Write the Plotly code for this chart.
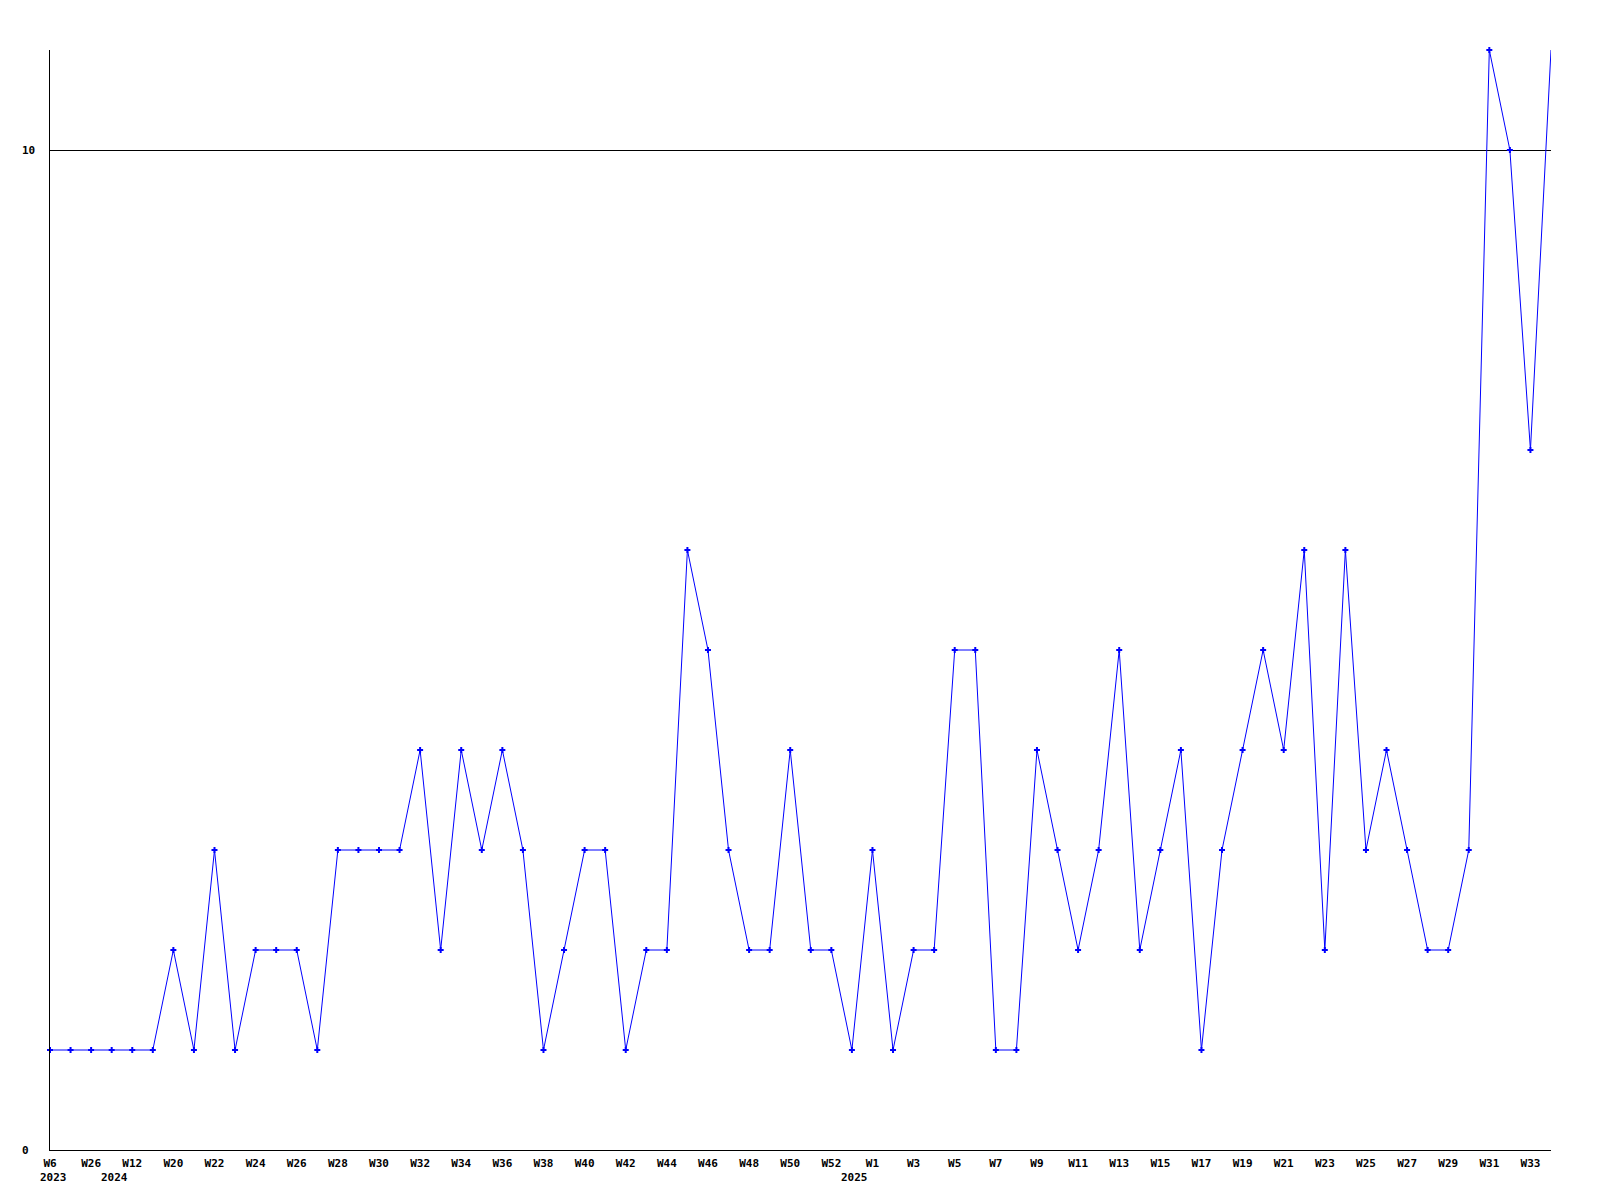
import plotly.graph_objects as go

weeks = ["W6", "W15", "W26", "W1", "W12", "W16", "W20", "W21", "W22", "W23",
         "W24", "W25", "W26", "W27", "W28", "W29", "W30", "W31", "W32", "W33",
         "W34", "W35", "W36", "W37", "W38", "W39", "W40", "W41", "W42", "W43",
         "W44", "W45", "W46", "W47", "W48", "W49", "W50", "W51", "W52", "W0",
         "W1", "W2", "W3", "W4", "W5", "W6", "W7", "W8", "W9", "W10",
         "W11", "W12", "W13", "W14", "W15", "W16", "W17", "W18", "W19", "W20",
         "W21", "W22", "W23", "W24", "W25", "W26", "W27", "W28", "W29", "W30",
         "W31", "W32", "W33", "W34"]
values = [1, 1, 1, 1, 1, 1, 2, 1, 3, 1,
          2, 2, 2, 1, 3, 3, 3, 3, 4, 2,
          4, 3, 4, 3, 1, 2, 3, 3, 1, 2,
          2, 6, 5, 3, 2, 2, 4, 2, 2, 1,
          3, 1, 2, 2, 5, 5, 1, 1, 4, 3,
          2, 3, 5, 2, 3, 4, 1, 3, 4, 5,
          4, 6, 2, 6, 3, 4, 3, 2, 2, 3,
          11, 10, 7, 11]
years = [("2023", 0), ("2024", 3), ("2025", 39)]
y_ticks = [0, 10]

idx = list(range(len(weeks)))
font = dict(family="DejaVu Sans Mono", size=11, color="black", weight="bold")

# the last point sits on the plot's right edge, where the reference clips its marker
marker_opacity = [1] * (len(idx) - 1) + [0]

fig = go.Figure()
fig.add_trace(go.Scatter(
    x=idx, y=values, mode="lines+markers",
    line=dict(color="#0000ff", width=1),
    marker=dict(symbol="cross", size=5, color="#0000ff",
                opacity=marker_opacity),
    cliponaxis=False, hoverinfo="skip"))

annotations = []
for label, i in years:
    annotations.append(dict(x=i, y=0, xref="x", yref="y", text=label,
                            showarrow=False, yshift=-27, xshift=3,
                            font=font, xanchor="center", yanchor="middle"))
for v in y_ticks:
    annotations.append(dict(x=0, y=v, xref="paper", yref="y", text=str(v),
                            showarrow=False, xshift=-30, font=font,
                            xanchor="left", yanchor="middle"))

fig.update_layout(
    width=1592, height=1192,
    margin=dict(l=42, r=49, t=42, b=50),
    paper_bgcolor="white", plot_bgcolor="white",
    showlegend=False,
    annotations=annotations,
    xaxis=dict(range=[0, len(weeks) - 1], tickmode="array",
               tickvals=idx[::2], ticktext=weeks[::2],
               showgrid=False, zeroline=False, showline=True,
               linecolor="black", linewidth=1, ticks="",
               tickfont=font, ticklabelstandoff=3),
    yaxis=dict(range=[0, 11], tickmode="array", tickvals=y_ticks,
               showticklabels=False, showgrid=True, gridcolor="black",
               gridwidth=1, zeroline=False, showline=True,
               linecolor="black", linewidth=1, ticks=""),
)
fig.write_html("out.html")
